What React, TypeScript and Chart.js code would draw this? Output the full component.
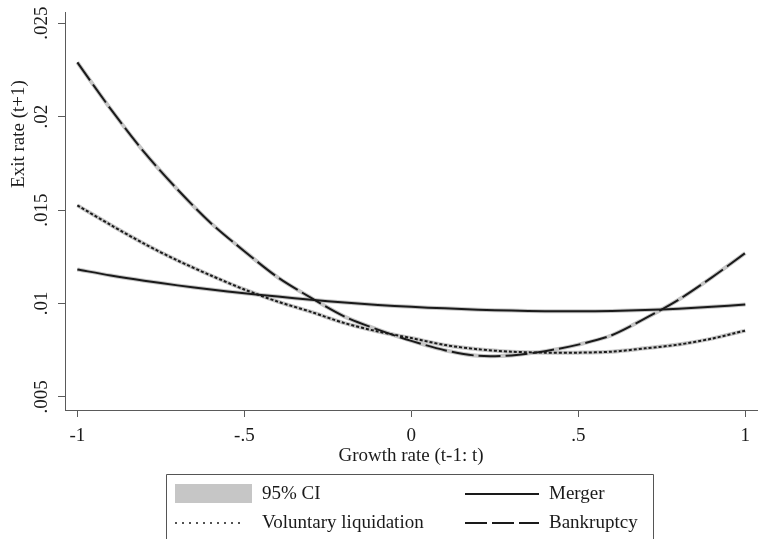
import React, { useEffect, useRef } from "react";
import { Chart, registerables } from "chart.js";

Chart.register(...registerables);

const FONT = '"Liberation Serif", "Times New Roman", serif';

// ---- data ----
const growthRates = [-1, -0.9, -0.8, -0.7, -0.6, -0.5, -0.4, -0.3, -0.2, -0.1, 0, 0.1, 0.2, 0.3, 0.4, 0.5, 0.6, 0.7, 0.8, 0.9, 1];
const merger = [0.01182, 0.0115, 0.01122, 0.01097, 0.01075, 0.01055, 0.01037, 0.0102, 0.01005, 0.00992, 0.00982, 0.00974, 0.00967, 0.00962, 0.00959, 0.00958, 0.0096, 0.00965, 0.00972, 0.00982, 0.00995];
const voluntary = [0.01525, 0.0142, 0.0132, 0.0123, 0.0115, 0.01075, 0.0101, 0.00955, 0.00895, 0.0085, 0.00815, 0.00778, 0.00755, 0.00742, 0.00737, 0.00737, 0.00742, 0.0076, 0.0078, 0.00812, 0.00855];
const bankruptcy = [0.0229, 0.0204, 0.0181, 0.0161, 0.0143, 0.0128, 0.0114, 0.0103, 0.0093, 0.0086, 0.008, 0.0075, 0.0072, 0.00722, 0.00745, 0.0078, 0.0083, 0.0092, 0.0102, 0.0114, 0.0127];

const xTicks = [-1, -0.5, 0, 0.5, 1];
const xTickLabels = ["-1", "-.5", "0", ".5", "1"];
const yTicks = [0.005, 0.01, 0.015, 0.02, 0.025];
const yTickLabels = [".005", ".01", ".015", ".02", ".025"];

const xTitle = "Growth rate (t-1: t)";
const yTitle = "Exit rate (t+1)";
const legendLabels = ["95% CI", "Merger", "Voluntary liquidation", "Bankruptcy"];

const LINE = "#1a1a1a";
const CI = "#c6c6c6";
const AXIS = "#5a5a5a";

const toPoints = (ys: number[]) => growthRates.map((x, i) => ({ x, y: ys[i] }));

const textPlugin = {
  id: "stataText",
  afterDraw(chart: any) {
    const ctx = chart.ctx as CanvasRenderingContext2D;
    const xs = chart.scales.x;
    const ys = chart.scales.y;
    ctx.save();
    ctx.fillStyle = "#1a1a1a";
    ctx.font = `19px ${FONT}`;
    ctx.textAlign = "center";
    ctx.textBaseline = "middle";
    // y tick labels (rotated)
    yTicks.forEach((v, i) => {
      const y = ys.getPixelForValue(v);
      ctx.save();
      ctx.translate(42, y);
      ctx.rotate(-Math.PI / 2);
      ctx.fillText(yTickLabels[i], 0, 0);
      ctx.restore();
    });
    // x tick labels
    xTicks.forEach((v, i) => {
      ctx.fillText(xTickLabels[i], xs.getPixelForValue(v), 436);
    });
    // titles
    ctx.fillText(xTitle, (chart.chartArea.left + chart.chartArea.right) / 2, 456);
    ctx.save();
    ctx.translate(19, 134);
    ctx.rotate(-Math.PI / 2);
    ctx.fillText(yTitle, 0, 0);
    ctx.restore();

    // legend box
    ctx.strokeStyle = "#555";
    ctx.lineWidth = 1;
    ctx.beginPath();
    ctx.moveTo(166.5, 545);
    ctx.lineTo(166.5, 474.5);
    ctx.lineTo(653.5, 474.5);
    ctx.lineTo(653.5, 545);
    ctx.stroke();

    // CI swatch
    ctx.fillStyle = CI;
    ctx.fillRect(175, 484, 77, 19);
    // voluntary swatch (dotted)
    ctx.strokeStyle = LINE;
    ctx.lineWidth = 1.6;
    ctx.setLineDash([2, 5]);
    ctx.beginPath();
    ctx.moveTo(175, 523);
    ctx.lineTo(241, 523);
    ctx.stroke();
    // merger swatch
    ctx.setLineDash([]);
    ctx.lineWidth = 2;
    ctx.beginPath();
    ctx.moveTo(465, 494);
    ctx.lineTo(539, 494);
    ctx.stroke();
    // bankruptcy swatch
    ctx.setLineDash([22, 5]);
    ctx.beginPath();
    ctx.moveTo(465, 523);
    ctx.lineTo(539, 523);
    ctx.stroke();
    ctx.setLineDash([]);

    ctx.fillStyle = "#1a1a1a";
    ctx.textAlign = "left";
    ctx.fillText(legendLabels[0], 262, 494);
    ctx.fillText(legendLabels[1], 549, 494);
    ctx.fillText(legendLabels[2], 262, 523);
    ctx.fillText(legendLabels[3], 549, 523);
    ctx.restore();
  },
};

export default function App() {
  const ref = useRef<HTMLCanvasElement | null>(null);

  useEffect(() => {
    if (!ref.current) return;
    const ciStyle = {
      borderColor: CI,
      borderWidth: 4,
      pointRadius: 0,
      tension: 0.3,
      order: 5,
      fill: false,
    };
    const chart = new Chart(ref.current, {
      type: "line",
      data: {
        datasets: [
          { ...ciStyle, label: "ci-m", data: toPoints(merger) },
          { ...ciStyle, label: "ci-v", data: toPoints(voluntary) },
          { ...ciStyle, label: "ci-b", data: toPoints(bankruptcy) },
          {
            label: "Merger",
            data: toPoints(merger),
            borderColor: LINE,
            borderWidth: 2,
            pointRadius: 0,
            tension: 0.3,
            order: 1,
          },
          {
            label: "Voluntary liquidation",
            data: toPoints(voluntary),
            borderColor: LINE,
            borderWidth: 2,
            borderDash: [3, 2],
            pointRadius: 0,
            tension: 0.3,
            order: 1,
          },
          {
            label: "Bankruptcy",
            data: toPoints(bankruptcy),
            borderColor: LINE,
            borderWidth: 2,
            borderDash: [22, 5],
            pointRadius: 0,
            tension: 0.3,
            order: 1,
          },
        ],
      },
      options: {
        animation: false,
        responsive: true,
        maintainAspectRatio: false,
        layout: { padding: { top: 12, right: 9, left: 0, bottom: 0 } },
        plugins: { legend: { display: false }, tooltip: { enabled: false } },
        scales: {
          x: {
            type: "linear",
            min: -1.037,
            max: 1.035,
            afterBuildTicks: (s: any) => {
              s.ticks = xTicks.map((v) => ({ value: v }));
            },
            afterFit: (s: any) => {
              s.height = 129;
            },
            ticks: { display: false },
            grid: { drawOnChartArea: false, drawTicks: true, tickLength: 7, color: AXIS },
            border: { display: true, color: AXIS, width: 1 },
          },
          y: {
            type: "linear",
            min: 0.0043,
            max: 0.0256,
            afterBuildTicks: (s: any) => {
              s.ticks = yTicks.map((v) => ({ value: v }));
            },
            afterFit: (s: any) => {
              s.width = 65;
            },
            ticks: { display: false },
            grid: { drawOnChartArea: false, drawTicks: true, tickLength: 7, color: AXIS },
            border: { display: true, color: AXIS, width: 1 },
          },
        },
      },
      plugins: [textPlugin],
    });
    return () => chart.destroy();
  }, []);

  return (
    <div style={{ position: "absolute", left: 0, top: 0, width: 766, height: 539, background: "#fff" }}>
      <canvas ref={ref} />
    </div>
  );
}
